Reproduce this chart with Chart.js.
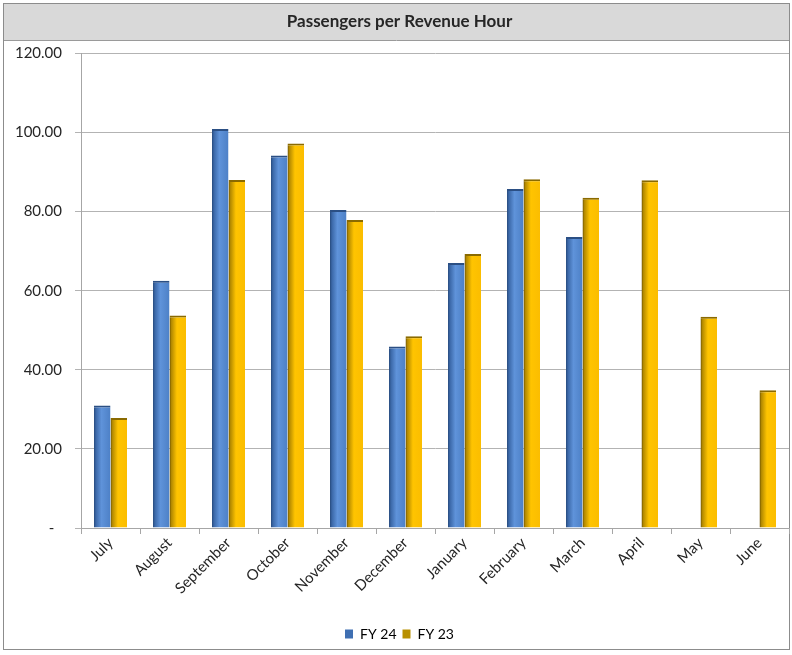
<!DOCTYPE html>
<html>
<head>
<meta charset="utf-8">
<title>Passengers per Revenue Hour</title>
<script src="https://cdn.jsdelivr.net/npm/chart.js@4"></script>
<style>
    html, body { margin: 0; padding: 0; background: #fff; }
    #wrap { width: 792px; height: 655px; }
</style>
</head>
<body>
<div id="wrap"><canvas id="pphChart" width="792" height="655"></canvas></div>
<script>
const months = ['July', 'August', 'September', 'October', 'November', 'December',
    'January', 'February', 'March', 'April', 'May', 'June'];
const fy24 = [31.0, 62.5, 100.9, 94.2, 80.4, 45.9, 67.0, 85.7, 73.6, null, null, null];
const fy23 = [27.8, 53.7, 88.0, 97.2, 77.9, 48.5, 69.3, 88.2, 83.5, 87.9, 53.4, 34.8];
const yTicks = [0, 20, 40, 60, 80, 100, 120];

const FONT = 'Lato, "Open Sans", "Liberation Sans", sans-serif';
const CAT_PCT = 0.56;

// horizontal shading across each bar, dark on the left edge like a cylinder
function barShade(stops, side) {
    return function (context) {
        const chart = context.chart;
        const xs = chart.scales.x;
        if (!xs || context.dataIndex === undefined) return stops[2][1];
        const center = xs.getPixelForValue(context.dataIndex);
        const half = (xs.width / months.length) * CAT_PCT / 2;
        const x0 = side === 0 ? center - half : center;
        const g = chart.ctx.createLinearGradient(x0, 0, x0 + half, 0);
        stops.forEach(s => g.addColorStop(s[0], s[1]));
        return g;
    };
}

const blueStops = [[0, '#274a7c'], [0.12, '#3b68a8'], [0.45, '#5f93da'], [1, '#4d80c6']];
const goldStops = [[0, '#6e5300'], [0.12, '#b48a00'], [0.45, '#ffc400'], [1, '#fbbd00']];

// grey frame round the whole chart and the shaded title band
const framePlugin = {
    id: 'frame',
    beforeDraw(chart) {
        const ctx = chart.ctx;
        ctx.save();
        ctx.fillStyle = '#d9d9d9';
        ctx.fillRect(4, 4, 785, 36);
        ctx.strokeStyle = '#9a9a9a';
        ctx.lineWidth = 1;
        ctx.beginPath();
        ctx.moveTo(4, 40.5);
        ctx.lineTo(789, 40.5);
        ctx.stroke();
        ctx.strokeStyle = '#8c8c8c';
        ctx.strokeRect(3.5, 3.5, 786, 646);
        ctx.restore();
    }
};

const ctx = document.getElementById('pphChart').getContext('2d');

new Chart(ctx, {
    type: 'bar',
    data: {
        labels: months,
        datasets: [
            {
                label: 'FY 24',
                data: fy24,
                backgroundColor: barShade(blueStops, 0),
                borderColor: '#2b4f84',
                borderWidth: { top: 2, left: 0, right: 0, bottom: 0 },
                borderSkipped: false,
                categoryPercentage: CAT_PCT,
                barPercentage: 1.0
            },
            {
                label: 'FY 23',
                data: fy23,
                backgroundColor: barShade(goldStops, 1),
                borderColor: '#8a6a00',
                borderWidth: { top: 2, left: 0, right: 0, bottom: 0 },
                borderSkipped: false,
                categoryPercentage: CAT_PCT,
                barPercentage: 1.0
            }
        ]
    },
    options: {
        responsive: false,
        animation: false,
        layout: {
            padding: { top: 4, left: 10, right: 3, bottom: 4 }
        },
        plugins: {
            title: {
                display: true,
                text: 'Passengers per Revenue Hour',
                color: '#262626',
                font: { family: FONT, size: 17, weight: 'bold' },
                padding: { top: 7, bottom: 22 }
            },
            legend: {
                position: 'bottom',
                labels: {
                    color: '#262626',
                    font: { family: FONT, size: 14 },
                    boxWidth: 8,
                    boxHeight: 9,
                    padding: 6,
                    generateLabels() {
                        return [
                            { text: 'FY 24', fillStyle: '#3f6fb2', strokeStyle: '#3f6fb2', lineWidth: 0, datasetIndex: 0 },
                            { text: 'FY 23', fillStyle: '#b89000', strokeStyle: '#b89000', lineWidth: 0, datasetIndex: 1 }
                        ];
                    }
                }
            },
            tooltip: { enabled: false }
        },
        scales: {
            x: {
                afterFit(scale) {
                    scale.height = 93;
                },
                grid: {
                    offset: true,
                    drawOnChartArea: false,
                    tickLength: 6,
                    color: '#a6a6a6'
                },
                border: { color: '#a6a6a6' },
                ticks: {
                    color: '#262626',
                    font: { family: FONT, size: 15 },
                    minRotation: 45,
                    maxRotation: 45,
                    padding: 0
                }
            },
            y: {
                min: 0,
                max: 120,
                afterBuildTicks(scale) {
                    scale.ticks = yTicks.map(v => ({ value: v }));
                },
                afterFit(scale) {
                    scale.width = 71;
                },
                grid: {
                    color: '#b3b3b3',
                    tickLength: 6
                },
                border: { color: '#a6a6a6' },
                ticks: {
                    color: '#262626',
                    font: { family: FONT, size: 15 },
                    padding: 13,
                    callback: v => v === 0 ? '-  ' : v.toFixed(2)
                }
            }
        }
    },
    plugins: [framePlugin]
});
</script>
</body>
</html>
